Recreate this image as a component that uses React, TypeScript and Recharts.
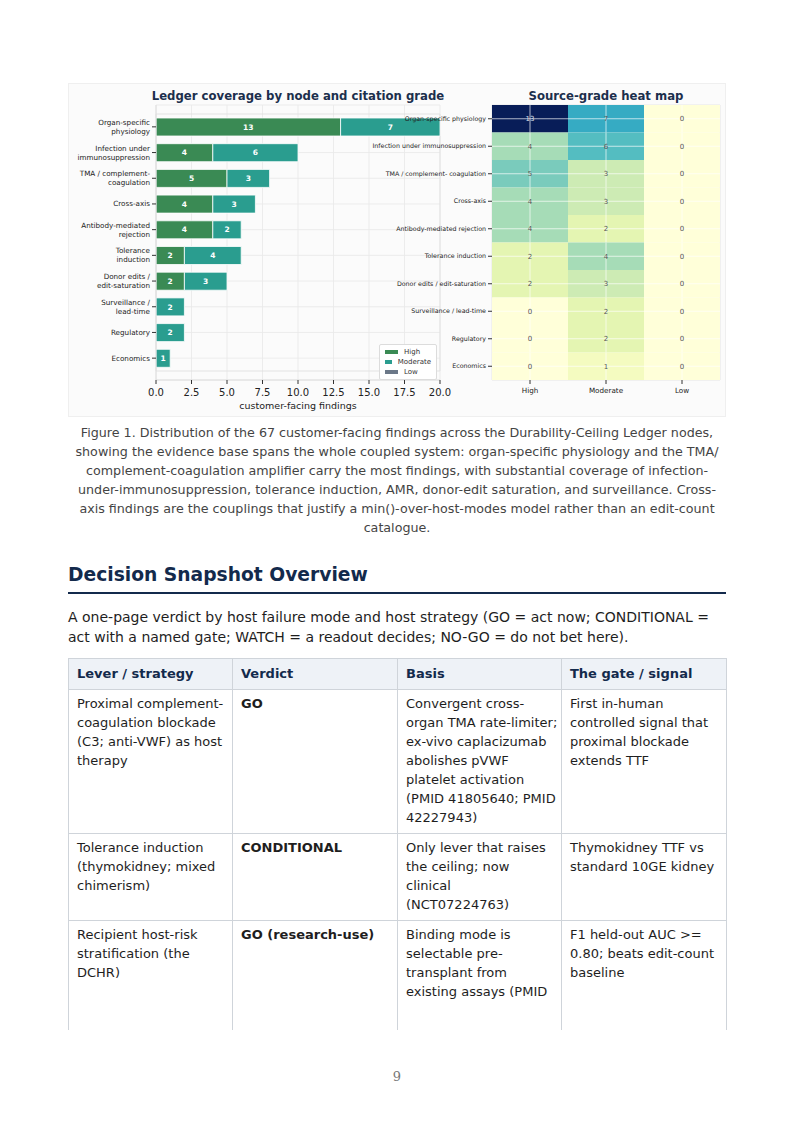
import React from 'react'
import {
  BarChart,
  Bar,
  XAxis,
  YAxis,
  CartesianGrid,
  LabelList,
  Legend,
  ReferenceArea,
  ScatterChart,
  Scatter,
} from 'recharts'

// ledger nodes, top to bottom
const nodeLabels = [
  'Organ-specific physiology',
  'Infection under immunosuppression',
  'TMA / complement- coagulation',
  'Cross-axis',
  'Antibody-mediated rejection',
  'Tolerance induction',
  'Donor edits / edit-saturation',
  'Surveillance / lead-time',
  'Regulatory',
  'Economics',
]
const nodeTickLabels = [
  'Organ-specific\nphysiology',
  'Infection under\nimmunosuppression',
  'TMA / complement-\ncoagulation',
  'Cross-axis',
  'Antibody-mediated\nrejection',
  'Tolerance\ninduction',
  'Donor edits /\nedit-saturation',
  'Surveillance /\nlead-time',
  'Regulatory',
  'Economics',
]
const gradeLabels = ['High', 'Moderate', 'Low']
const highFindings = [13, 4, 5, 4, 4, 2, 2, 0, 0, 0]
const moderateFindings = [7, 6, 3, 3, 2, 4, 3, 2, 2, 1]
const lowFindings = [0, 0, 0, 0, 0, 0, 0, 0, 0, 0]
const findingTicks = [0, 2.5, 5, 7.5, 10, 12.5, 15, 17.5, 20]

const GRADE_COLORS: Record<string, string> = { High: '#3a8a54', Moderate: '#2a9d8f', Low: '#6b7888' }
const FONT = "'DejaVu Sans', sans-serif"
const NAVY = '#1c2f4d'

const barData = nodeTickLabels.map((node, i) => ({
  node,
  High: highFindings[i],
  Moderate: moderateFindings[i],
  Low: lowFindings[i],
}))

const gradeColumns = [highFindings, moderateFindings, lowFindings]
const heatData = nodeLabels.flatMap((_, row) =>
  gradeColumns.map((col, c) => ({ row, col: c, value: col[row] }))
)
const heatMax = Math.max(...heatData.map((d) => d.value))

// YlGnBu
const YLGNBU = ['#ffffd9', '#edf8b1', '#c7e9b4', '#7fcdbb', '#41b6c4', '#1d91c0', '#225ea8', '#253494', '#081d58']
function hexToRgb(h: string) {
  return [1, 3, 5].map((i) => parseInt(h.slice(i, i + 2), 16))
}
function heatColor(v: number) {
  const t = (v / heatMax) * (YLGNBU.length - 1)
  const i = Math.min(Math.floor(t), YLGNBU.length - 2)
  const f = t - i
  const a = hexToRgb(YLGNBU[i])
  const b = hexToRgb(YLGNBU[i + 1])
  const c = a.map((x, k) => Math.round(x + (b[k] - x) * f))
  return `rgb(${c[0]},${c[1]},${c[2]})`
}

const HEAT_CELL_W = 76
const HEAT_CELL_H = 27.5

function HeatCell(props: any) {
  const { cx, cy, payload } = props
  const x0 = cx - HEAT_CELL_W / 2
  const y0 = cy - HEAT_CELL_H / 2
  return (
    <g>
      <rect x={x0} y={y0} width={HEAT_CELL_W} height={HEAT_CELL_H} fill={heatColor(payload.value)} />
      {/* grid lines through tick centres, drawn over the cells like the original */}
      <line x1={x0} x2={x0 + HEAT_CELL_W} y1={cy} y2={cy} stroke="#fff" strokeOpacity={0.75} strokeWidth={0.9} />
      <line x1={cx} x2={cx} y1={y0} y2={y0 + HEAT_CELL_H} stroke="#fff" strokeOpacity={0.75} strokeWidth={0.9} />
      <text
        x={cx}
        y={cy}
        dy="0.35em"
        textAnchor="middle"
        fontSize={7}
        fontFamily={FONT}
        fill={payload.value > heatMax * 0.6 ? '#dfe3ec' : '#555'}
      >
        {payload.value}
      </text>
    </g>
  )
}

function NodeTick(props: any) {
  const { x, y, payload } = props
  const lines = String(payload.value).split('\n')
  const lh = 9
  const y0 = y - ((lines.length - 1) * lh) / 2
  return (
    <text x={x} y={y0} textAnchor="end" fontSize={7.2} fontFamily={FONT} fill="#222">
      {lines.map((l, i) => (
        <tspan key={i} x={x} y={y0 + i * lh} dy="0.35em">
          {l}
        </tspan>
      ))}
    </text>
  )
}

function HeatRowTick(props: any) {
  const { x, y, payload } = props
  return (
    <text x={x} y={y} dy="0.35em" textAnchor="end" fontSize={6.3} fontFamily={FONT} fill="#222">
      {nodeLabels[payload.value]}
    </text>
  )
}

function GradeLegend() {
  return (
    <div
      style={{
        background: '#fff',
        border: '1px solid #dcdcdc',
        borderRadius: 2,
        padding: '2px 5px',
        fontFamily: FONT,
        fontSize: 7,
        color: '#333',
        lineHeight: '10px',
      }}
    >
      {gradeLabels.map((g) => (
        <div key={g} style={{ display: 'flex', alignItems: 'center' }}>
          <span style={{ display: 'inline-block', width: 13, height: 4, background: GRADE_COLORS[g], marginRight: 6 }} />
          {g}
        </div>
      ))}
    </div>
  )
}

function LedgerBars() {
  return (
    <BarChart
      width={392}
      height={334}
      data={barData}
      layout="vertical"
      margin={{ top: 22, right: 20, bottom: 0, left: 0 }}
      barSize={18}
    >
      <CartesianGrid stroke="#e8e8e8" strokeWidth={0.8} />
      <ReferenceArea x1={0} x2={20} fill="none" stroke="#dedede" strokeWidth={0.8} />
      <XAxis
        type="number"
        domain={[0, 20]}
        ticks={findingTicks}
        tickFormatter={(v: number) => v.toFixed(1)}
        tick={{ fontSize: 10, fill: '#222', fontFamily: FONT }}
        tickSize={4}
        tickMargin={5}
        tickLine={{ stroke: '#333' }}
        axisLine={{ stroke: '#dedede' }}
        height={37}
        label={{ value: 'customer-facing findings', position: 'insideBottom', offset: 8, fontSize: 9.5, fill: '#222', fontFamily: FONT }}
      />
      <YAxis
        type="category"
        dataKey="node"
        width={88}
        interval={0}
        tick={<NodeTick />}
        tickSize={4}
        tickLine={{ stroke: '#333' }}
        axisLine={{ stroke: '#dedede' }}
        padding={{ top: 9, bottom: 9 }}
      />
      {gradeLabels.map((g) => (
        <Bar key={g} dataKey={g} stackId="a" fill={GRADE_COLORS[g]} stroke="#fff" strokeWidth={0.8} isAnimationActive={false}>
          <LabelList
            dataKey={g}
            position="center"
            fill="#fff"
            fontSize={7.5}
            fontWeight="bold"
            fontFamily={FONT}
            formatter={(v: any) => (v ? v : '')}
          />
        </Bar>
      ))}
      <Legend
        layout="vertical"
        align="center"
        verticalAlign="middle"
        wrapperStyle={{ left: 311, top: 261, width: 58, height: 32 }}
        content={() => <GradeLegend />}
      />
    </BarChart>
  )
}

function SourceHeatMap() {
  return (
    <ScatterChart width={366} height={334} margin={{ top: 22, right: 6, bottom: 0, left: 0 }}>
      <XAxis
        type="number"
        dataKey="col"
        domain={[-0.5, 2.5]}
        ticks={[0, 1, 2]}
        interval={0}
        tickFormatter={(i: number) => gradeLabels[i]}
        tick={{ fontSize: 7.2, fill: '#222', fontFamily: FONT }}
        tickSize={4}
        tickMargin={4}
        tickLine={{ stroke: '#333' }}
        axisLine={false}
        height={37}
      />
      <YAxis
        type="number"
        dataKey="row"
        domain={[-0.5, 9.5]}
        reversed
        ticks={nodeLabels.map((_, i) => i)}
        interval={0}
        tick={<HeatRowTick />}
        tickSize={4}
        tickLine={{ stroke: '#333' }}
        axisLine={false}
        width={132}
      />
      <Scatter data={heatData} shape={<HeatCell />} isAnimationActive={false} />
      <ReferenceArea x1={-0.5} x2={2.5} y1={-0.5} y2={9.5} fill="none" stroke="#e2e2e2" strokeWidth={0.8} />
    </ScatterChart>
  )
}

const captionLines = [
  'Figure 1. Distribution of the 67 customer-facing findings across the Durability-Ceiling Ledger nodes,',
  'showing the evidence base spans the whole coupled system: organ-specific physiology and the TMA/',
  'complement-coagulation amplifier carry the most findings, with substantial coverage of infection-',
  'under-immunosuppression, tolerance induction, AMR, donor-edit saturation, and surveillance. Cross-',
  'axis findings are the couplings that justify a min()-over-host-modes model rather than an edit-count',
  'catalogue.',
]

const tableHead = ['Lever / strategy', 'Verdict', 'Basis', 'The gate / signal']
const tableRows: string[][][] = [
  [
    ['Proximal complement-', 'coagulation blockade', '(C3; anti-VWF) as host', 'therapy'],
    ['GO'],
    ['Convergent cross-', 'organ TMA rate-limiter;', 'ex-vivo caplacizumab', 'abolishes pVWF', 'platelet activation', '(PMID 41805640; PMID', '42227943)'],
    ['First in-human', 'controlled signal that', 'proximal blockade', 'extends TTF'],
  ],
  [
    ['Tolerance induction', '(thymokidney; mixed', 'chimerism)'],
    ['CONDITIONAL'],
    ['Only lever that raises', 'the ceiling; now', 'clinical', '(NCT07224763)'],
    ['Thymokidney TTF vs', 'standard 10GE kidney'],
  ],
  [
    ['Recipient host-risk', 'stratification (the', 'DCHR)'],
    ['GO (research-use)'],
    ['Binding mode is', 'selectable pre-', 'transplant from', 'existing assays (PMID'],
    ['F1 held-out AUC >=', '0.80; beats edit-count', 'baseline'],
  ],
]
const colWidths = [164, 165, 164, 165]

export default function App() {
  const cellStyle: React.CSSProperties = {
    border: '1px solid #cfd4da',
    padding: '4px 8px 6px 8px',
    verticalAlign: 'top',
    whiteSpace: 'nowrap',
    lineHeight: '19px',
    fontSize: 13,
    color: '#1e1e1e',
  }
  const titleStyle: React.CSSProperties = {
    position: 'absolute',
    top: 88,
    lineHeight: '16px',
    textAlign: 'center',
    fontSize: 11.7,
    fontWeight: 'bold',
    color: NAVY,
    whiteSpace: 'nowrap',
  }
  return (
    <div
      style={{
        position: 'absolute',
        left: 0,
        top: 0,
        width: 794,
        height: 1123,
        background: '#fff',
        fontFamily: FONT,
        overflow: 'hidden',
      }}
    >
      {/* figure panel */}
      <div
        style={{
          position: 'absolute',
          left: 68,
          top: 83,
          width: 658,
          height: 334,
          background: '#fbfbfb',
          border: '1px solid #efefef',
          boxSizing: 'border-box',
        }}
      />
      <div style={{ position: 'absolute', left: 68, top: 83 }}>
        <LedgerBars />
      </div>
      <div style={{ position: 'absolute', left: 360, top: 83 }}>
        <SourceHeatMap />
      </div>
      <div style={{ ...titleStyle, left: 148, width: 300 }}>Ledger coverage by node and citation grade</div>
      <div style={{ ...titleStyle, left: 506, width: 200 }}>Source-grade heat map</div>

      {/* caption */}
      <div
        style={{
          position: 'absolute',
          left: 68,
          width: 658,
          top: 422.5,
          textAlign: 'center',
          fontSize: 12.7,
          lineHeight: '19px',
          color: '#444',
          whiteSpace: 'nowrap',
        }}
      >
        {captionLines.map((l, i) => (
          <div key={i}>{l}</div>
        ))}
      </div>

      {/* heading */}
      <div
        style={{
          position: 'absolute',
          left: 68,
          top: 562,
          lineHeight: '26px',
          fontSize: 18.7,
          fontWeight: 'bold',
          color: '#132a4c',
          whiteSpace: 'nowrap',
        }}
      >
        Decision Snapshot Overview
      </div>
      <div style={{ position: 'absolute', left: 68, top: 592, width: 658, height: 2, background: '#132a4c' }} />
      <div
        style={{
          position: 'absolute',
          left: 68,
          top: 607,
          fontSize: 14,
          lineHeight: '20px',
          color: '#1e1e1e',
          whiteSpace: 'nowrap',
        }}
      >
        <div>A one-page verdict by host failure mode and host strategy (GO = act now; CONDITIONAL =</div>
        <div>act with a named gate; WATCH = a readout decides; NO-GO = do not bet here).</div>
      </div>

      {/* table */}
      <div style={{ position: 'absolute', left: 68, top: 658, width: 659, height: 372, overflow: 'hidden' }}>
        <table style={{ borderCollapse: 'collapse', tableLayout: 'fixed', width: 658 }}>
          <colgroup>
            {colWidths.map((w, i) => (
              <col key={i} style={{ width: w }} />
            ))}
          </colgroup>
          <thead>
            <tr>
              {tableHead.map((h) => (
                <th
                  key={h}
                  style={{
                    ...cellStyle,
                    padding: '5px 8px 6px 8px',
                    textAlign: 'left',
                    background: '#eef2f7',
                    color: '#132a4c',
                    fontWeight: 'bold',
                  }}
                >
                  {h}
                </th>
              ))}
            </tr>
          </thead>
          <tbody>
            {tableRows.map((row, ri) => (
              <tr key={ri} style={ri === tableRows.length - 1 ? { height: 160 } : undefined}>
                {row.map((cell, ci) => (
                  <td key={ci} style={{ ...cellStyle, fontWeight: ci === 1 ? 'bold' : 'normal' }}>
                    {cell.map((l, k) => (
                      <div key={k}>{l}</div>
                    ))}
                  </td>
                ))}
              </tr>
            ))}
          </tbody>
        </table>
      </div>

      {/* page number */}
      <div
        style={{
          position: 'absolute',
          left: 0,
          width: 794,
          top: 1068,
          textAlign: 'center',
          fontFamily: "'DejaVu Serif', serif",
          fontSize: 13,
          lineHeight: '18px',
          color: '#777',
        }}
      >
        9
      </div>
    </div>
  )
}
